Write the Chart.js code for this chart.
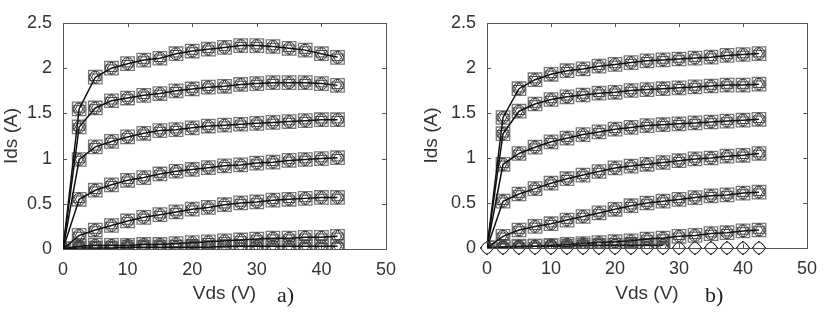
<!DOCTYPE html>
<html>
<head>
<meta charset="utf-8">
<script src="https://cdn.jsdelivr.net/npm/chart.js@4"></script>
<style>
  body { margin: 0; background: #fff; }
  #wrap { position: relative; width: 825px; height: 324px; overflow: hidden; }
  canvas { position: absolute; top: 0; }
  .tag { position: absolute; font-family: "Liberation Serif", "Times New Roman", serif; font-size: 22px; color: #222; }
</style>
</head>
<body>
<div id="wrap">
  <canvas id="chartA" width="412" height="324" style="left:0"></canvas>
  <canvas id="chartB" width="413" height="324" style="left:412px"></canvas>
  <div class="tag" style="left:277px; top:282px">a)</div>
  <div class="tag" style="left:705px; top:282px">b)</div>
</div>
<script>
// drain voltage samples (V)
const vds = [0, 2.5, 5, 7.5, 10, 12.5, 15, 17.5, 20, 22.5, 25, 27.5, 30, 32.5, 35, 37.5, 40, 42.5];

// panel a) drain current (A), one array per gate bias
const a1 = [0, 1.55, 1.9, 2.0, 2.05, 2.09, 2.11, 2.16, 2.19, 2.21, 2.23, 2.25, 2.25, 2.24, 2.22, 2.2, 2.16, 2.12];
const a2 = [0, 1.35, 1.56, 1.64, 1.67, 1.7, 1.72, 1.75, 1.77, 1.79, 1.8, 1.82, 1.83, 1.84, 1.84, 1.84, 1.83, 1.81];
const a3 = [0, 0.99, 1.13, 1.19, 1.24, 1.28, 1.31, 1.32, 1.34, 1.36, 1.37, 1.38, 1.39, 1.4, 1.41, 1.42, 1.43, 1.43];
const a4 = [0, 0.55, 0.65, 0.71, 0.76, 0.79, 0.83, 0.86, 0.88, 0.9, 0.92, 0.93, 0.95, 0.96, 0.98, 0.99, 1.0, 1.01];
const a5 = [0, 0.15, 0.21, 0.26, 0.31, 0.35, 0.38, 0.41, 0.44, 0.46, 0.49, 0.51, 0.52, 0.54, 0.55, 0.56, 0.57, 0.57];
const a6 = [0, 0.03, 0.04, 0.04, 0.04, 0.05, 0.05, 0.06, 0.07, 0.08, 0.09, 0.1, 0.11, 0.12, 0.12, 0.13, 0.13, 0.14];
const a7 = [0, 0.01, 0.01, 0.01, 0.02, 0.02, 0.02, 0.02, 0.02, 0.02, 0.03, 0.03, 0.03, 0.03, 0.03, 0.03, 0.03, 0.03];

// panel b) drain current (A)
const b1 = [0, 1.45, 1.77, 1.87, 1.93, 1.97, 1.99, 2.02, 2.04, 2.06, 2.08, 2.09, 2.1, 2.11, 2.12, 2.14, 2.15, 2.16];
const b2 = [0, 1.27, 1.52, 1.6, 1.65, 1.68, 1.7, 1.72, 1.73, 1.75, 1.76, 1.77, 1.78, 1.79, 1.8, 1.81, 1.81, 1.82];
const b3 = [0, 0.93, 1.05, 1.12, 1.18, 1.22, 1.26, 1.29, 1.32, 1.34, 1.36, 1.37, 1.38, 1.39, 1.4, 1.41, 1.42, 1.43];
const b4 = [0, 0.52, 0.6, 0.66, 0.72, 0.77, 0.81, 0.85, 0.89, 0.91, 0.93, 0.95, 0.97, 0.99, 1.0, 1.02, 1.03, 1.05];
const b5 = [0, 0.13, 0.2, 0.24, 0.27, 0.31, 0.35, 0.39, 0.43, 0.47, 0.5, 0.52, 0.54, 0.56, 0.58, 0.59, 0.61, 0.62];
const b6 = [0, 0.01, 0.02, 0.02, 0.03, 0.04, 0.05, 0.06, 0.07, 0.08, 0.1, 0.11, 0.13, 0.14, 0.16, 0.17, 0.19, 0.2];
const b7 = [0, 0.01, 0.01, 0.02, 0.02, 0.02, 0.03, 0.03, 0.03, 0.03, 0.03, 0.03];
const b7model = [0, 0, 0, 0, 0, 0, 0, 0, 0, 0, 0, 0, 0, 0, 0, 0, 0, 0];

const xTicks = [0, 10, 20, 30, 40, 50];
const yTicks = [0, 0.5, 1, 1.5, 2, 2.5];

const FONT = "'Liberation Sans', Arial, sans-serif";

function pts(ys) {
    return ys.map((v, i) => ({ x: vds[i], y: v }));
}

// each curve: solid line, grey squares, plus circle / triangle markers on top
function curveSets(ys) {
    const d = pts(ys);
    return [
        { data: d, borderColor: '#111', borderWidth: 1.5, pointRadius: 0, order: 1 },
        { data: d, showLine: false, pointStyle: 'rect', pointRadius: 9.5, borderColor: '#777', pointBorderWidth: 1.3, backgroundColor: 'transparent', order: 4 },
        { data: d, showLine: false, pointStyle: 'circle', pointRadius: 6, borderColor: '#333', pointBorderWidth: 1, backgroundColor: 'transparent', order: 3 },
        { data: d, showLine: false, pointStyle: 'triangle', pointRadius: 6.5, borderColor: '#444', pointBorderWidth: 1, backgroundColor: 'transparent', order: 2 },
        { data: d, showLine: false, pointStyle: 'triangle', rotation: 180, pointRadius: 6.5, borderColor: '#444', pointBorderWidth: 1, backgroundColor: 'transparent', order: 2 },
    ];
}

function modelOnly(ys) {
    const d = pts(ys);
    return [
        { data: d, showLine: false, pointStyle: 'rectRot', pointRadius: 7, borderColor: '#444', pointBorderWidth: 1, backgroundColor: 'transparent', clip: false },
        { data: d, showLine: false, pointStyle: 'circle', pointRadius: 5.5, borderColor: '#555', pointBorderWidth: 1, backgroundColor: 'transparent', clip: false },
    ];
}

// MATLAB style box with inward ticks
const framePlugin = {
    id: 'frame',
    beforeDatasetsDraw(chart) {
        const { ctx, chartArea: a, scales } = chart;
        ctx.save();
        ctx.strokeStyle = '#555';
        ctx.lineWidth = 1;
        ctx.strokeRect(Math.round(a.left) + 0.5, Math.round(a.top) + 0.5, Math.round(a.width), Math.round(a.height));
        ctx.beginPath();
        xTicks.forEach(v => {
            const px = Math.round(scales.x.getPixelForValue(v)) + 0.5;
            ctx.moveTo(px, a.bottom); ctx.lineTo(px, a.bottom - 4);
            ctx.moveTo(px, a.top); ctx.lineTo(px, a.top + 4);
        });
        yTicks.forEach(v => {
            const py = Math.round(scales.y.getPixelForValue(v)) + 0.5;
            ctx.moveTo(a.left, py); ctx.lineTo(a.left + 4, py);
            ctx.moveTo(a.right, py); ctx.lineTo(a.right - 4, py);
        });
        ctx.stroke();
        ctx.restore();
    }
};

function makeChart(id, datasets, pad, yWidth, xHeight) {
    return new Chart(document.getElementById(id), {
        type: 'line',
        data: { datasets: datasets },
        options: {
            responsive: false,
            animation: false,
            layout: { padding: pad },
            plugins: { legend: { display: false }, tooltip: { enabled: false } },
            scales: {
                x: {
                    type: 'linear', min: 0, max: 50,
                    grid: { display: false },
                    border: { display: false },
                    afterBuildTicks: s => { s.ticks = xTicks.map(v => ({ value: v })); },
                    afterFit: s => { s.height = xHeight; },
                    ticks: { color: '#333', font: { family: FONT, size: 18 }, padding: 2, maxRotation: 0, callback: v => String(v) },
                    title: { display: true, text: 'Vds (V)', color: '#333', font: { family: FONT, size: 19 }, padding: { top: 0, bottom: 4 } },
                },
                y: {
                    min: 0, max: 2.5,
                    grid: { display: false },
                    border: { display: false },
                    afterBuildTicks: s => { s.ticks = yTicks.map(v => ({ value: v })); },
                    afterFit: s => { s.width = yWidth; },
                    ticks: { color: '#333', font: { family: FONT, size: 18 }, padding: 3, callback: v => String(v) },
                    title: { display: true, text: 'Ids (A)', color: '#333', font: { family: FONT, size: 19 }, padding: 0 },
                },
            },
        },
        plugins: [framePlugin],
    });
}

const setsA = [a1, a2, a3, a4, a5, a6, a7].flatMap(curveSets);
const setsB = [b1, b2, b3, b4, b5, b6, b7].flatMap(curveSets).concat(modelOnly(b7model));

makeChart('chartA', setsA, { left: 0, right: 26, top: 23, bottom: 15 }, 63, 60);
makeChart('chartB', setsB, { left: 8, right: 18, top: 23, bottom: 15 }, 67, 61);
</script>
</body>
</html>
